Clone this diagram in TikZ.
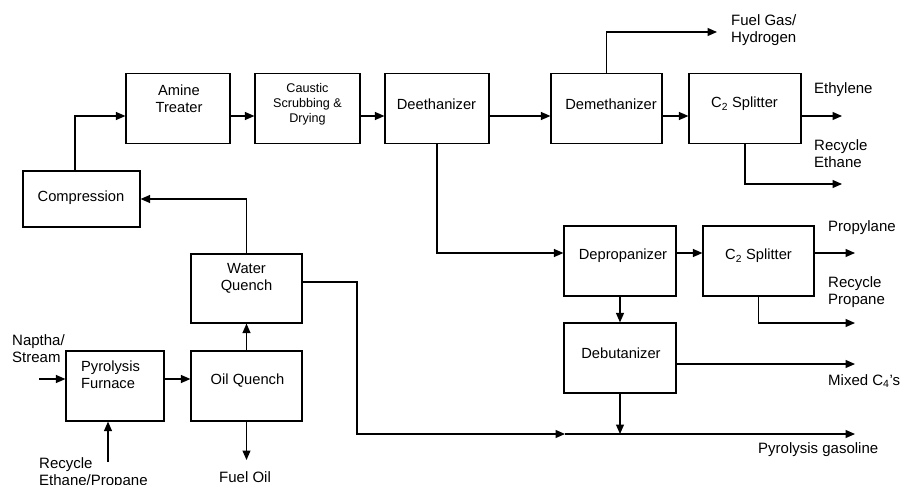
\documentclass[tikz,border=0pt]{standalone}
\usepackage{fontspec}
\setmainfont{Liberation Sans}
\usetikzlibrary{arrows.meta}
\begin{document}
\begin{tikzpicture}[x=1pt,y=-1pt,
  box/.style args={#1x#2}{draw, line width=1.2pt, inner sep=0pt,
    minimum width=#1pt, minimum height=#2pt},
  txt/.style={inner sep=0pt, align=center, font=\fontsize{14.7}{17}\selectfont},
  small/.style={inner sep=0pt, align=center, font=\fontsize{12.6}{15}\selectfont},
  lbl/.style={inner sep=0pt, anchor=west, align=left, font=\fontsize{15}{17}\selectfont},
  flow/.style={line width=1.2pt, -{Triangle[length=9.5pt,width=8pt]}}]
\useasboundingbox (0,0) rectangle (901,484);

% process units
\node[box=104x70] (amine)   at (178,108.5) {};
\node[box=105x70] (caustic) at (307.5,108.5) {};
\node[box=104x70] (deeth)   at (437,108.5) {};
\node[box=111x70] (demeth)  at (606.5,108.5) {};
\node[box=112x70] (c2a)     at (745,108.5) {};
\node[box=117x56] (comp)    at (81.5,199) {};
\node[box=111x69] (wq)      at (246.5,288.5) {};
\node[box=111x70] (oq)      at (246.5,386) {};
\node[box=98x70]  (furnace) at (115,386) {};
\node[box=112x70] (deprop)  at (620,261) {};
\node[box=111x70] (c2b)     at (758.5,261) {};
\node[box=112x70] (debut)   at (620,358) {};

% unit names
\node[txt] (amineT)   at (179,99) {Amine\\Treater};
\node[small] (causticT) at (307.5,104) {Caustic\\Scrubbing \&\\Drying};
\node[txt] (deethT)   at (436.5,104) {Deethanizer};
\node[txt] (demethT)  at (611,104) {Demethanizer};
\node[txt] (c2aT)     at (744.5,104) {C\textsubscript{2} Splitter};
\node[txt] (compT)    at (81,198) {Compression};
\node[txt] (wqT)      at (246.5,278.5) {Water\\Quench};
\node[txt] (oqT)      at (247.5,381) {Oil Quench};
\node[txt, align=left] (furnaceT) at (110.5,375) {Pyrolysis\\Furnace};
\node[txt] (depropT)  at (623,256) {Depropanizer};
\node[txt] (c2bT)     at (758.5,256) {C\textsubscript{2} Splitter};
\node[txt] (debutT)   at (621,353) {Debutanizer};

% stream ends
\coordinate (fuelgas)  at (717,32);
\coordinate (ethylene) at (842,116);
\coordinate (recEth)   at (842,184);
\coordinate (propyl)   at (855,253);
\coordinate (recProp)  at (855,323);
\coordinate (mixed)    at (855,364);
\coordinate (gasturn)  at (357,434);
\coordinate (gasmid)   at (565,434);
\coordinate (gasend)   at (855,434);
\coordinate (feed)     at (39,379);
\coordinate (recFeed)  at (108,462);
\coordinate (fueloil)  at (246.5,460);

% stream names
\node[lbl] (fuelgasL)  at (731,30) {Fuel Gas/\\Hydrogen};
\node[lbl] (ethyleneL) at (814,90) {Ethylene};
\node[lbl] (recEthL)   at (814,154) {Recycle\\Ethane};
\node[lbl] (propylL)   at (828,228) {Propylane};
\node[lbl] (recPropL)  at (828,292.5) {Recycle\\Propane};
\node[lbl] (mixedL)    at (828,381) {Mixed C\textsubscript{4}’s};
\node[lbl] (gasL)      at (758,450) {Pyrolysis gasoline};
\node[lbl] (feedL)     at (12,348.5) {Naptha/\\Stream};
\node[lbl] (recFeedL)  at (39,473.5) {Recycle\\Ethane/Propane};
\node[lbl] (fueloilL)  at (219,477) {Fuel Oil};

% flows
\draw[flow] ([xshift=-6.5pt]comp.north) |- ([yshift=-7.5pt]amine.west);
\draw[flow] ([yshift=-7.5pt]amine.east) -- ([yshift=-7.5pt]caustic.west);
\draw[flow] ([yshift=-7.5pt]caustic.east) -- ([yshift=-7.5pt]deeth.west);
\draw[flow] ([yshift=-7.5pt]deeth.east) -- ([yshift=-7.5pt]demeth.west);
\draw[flow] ([yshift=-7.5pt]demeth.east) -- ([yshift=-7.5pt]c2a.west);
\draw[flow] (demeth.north) |- (fuelgas);
\draw[flow] ([yshift=-7.5pt]c2a.east) -- (ethylene);
\draw[flow] (c2a.south) |- (recEth);
\draw[flow] (deeth.south) |- ([yshift=8pt]deprop.west);
\draw[flow] ([yshift=8pt]deprop.east) -- ([yshift=8pt]c2b.west);
\draw[flow] ([yshift=8pt]c2b.east) -- (propyl);
\draw[flow] (c2b.south) |- (recProp);
\draw[flow] (deprop.south) -- (debut.north);
\draw[flow] ([yshift=-6pt]debut.east) -- (mixed);
\draw[flow] (debut.south) -- (debut.south |- gasmid);
\draw[flow] ([yshift=6.5pt]wq.east) -| (gasturn) -- (gasmid);
\draw[flow] (gasmid) -- (gasend);
\draw[flow] (wq.north) |- (comp.east);
\draw[flow] (oq.north) -- (wq.south);
\draw[flow] (feed) -- ([yshift=7pt]furnace.west);
\draw[flow] ([yshift=7pt]furnace.east) -- ([yshift=7pt]oq.west);
\draw[flow] (recFeed) -- (furnace.south -| recFeed);
\draw[flow] (oq.south) -- (fueloil);
\end{tikzpicture}
\end{document}
